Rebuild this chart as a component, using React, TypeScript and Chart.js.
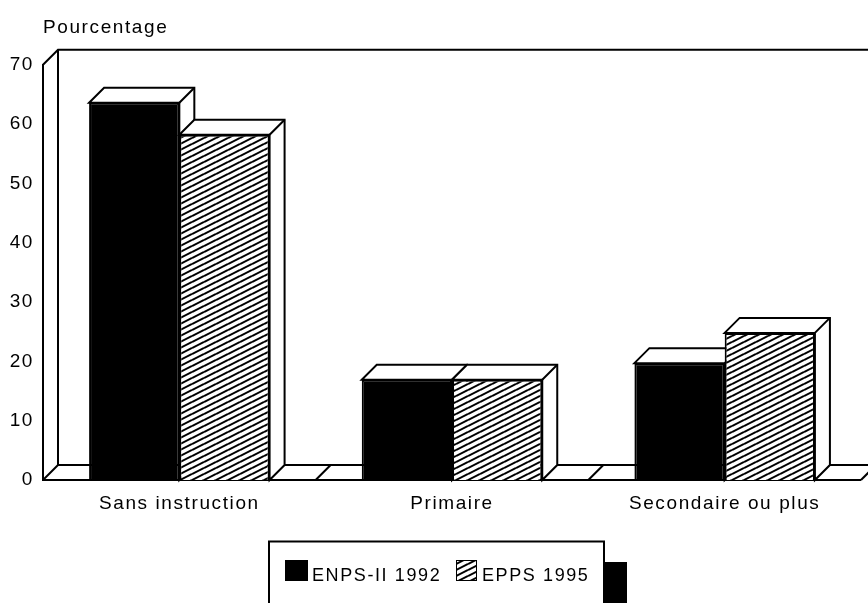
import React, { useEffect, useRef } from "react";
import { Chart, registerables } from "chart.js";

Chart.register(...registerables);

const categories = ["Sans instruction", "Primaire", "Secondaire ou plus"];
const seriesNames = ["ENPS-II 1992", "EPPS 1995"];
const enps1992 = [63.6, 16.9, 19.7];
const epps1995 = [58.2, 16.9, 24.8];
const yTicksMax = 70;
const yStep = 10;
const yAxisTitle = "Pourcentage";

const FONT = '"Liberation Sans", Arial, sans-serif';
const DEPTH = 15;
const INK = "#000000";

function makeHatch(): CanvasPattern | string {
  const tile = document.createElement("canvas");
  tile.width = 12;
  tile.height = 6;
  const t = tile.getContext("2d");
  if (!t) return "#888";
  t.fillStyle = "#fff";
  t.fillRect(0, 0, 12, 6);
  t.strokeStyle = "#000";
  t.lineWidth = 2;
  for (const off of [-6, 0, 6]) {
    t.beginPath();
    t.moveTo(0, 6 + off);
    t.lineTo(12, 0 + off);
    t.stroke();
  }
  return t.createPattern(tile, "repeat") || "#888";
}

function line(ctx: CanvasRenderingContext2D, pts: number[][]) {
  ctx.beginPath();
  pts.forEach(([x, y], i) => (i ? ctx.lineTo(x, y) : ctx.moveTo(x, y)));
  ctx.stroke();
}

const depthPlugin = {
  id: "depth",
  beforeDraw(chart: any) {
    (chart.ctx as any).letterSpacing = "1.6px";
  },
  beforeDatasetsDraw(chart: any) {
    const { ctx, chartArea: a, width, scales } = chart;
    const x = scales.x;
    ctx.save();
    ctx.strokeStyle = INK;
    ctx.lineWidth = 2;
    // walls and floor behind the bars
    line(ctx, [[a.left, a.top], [a.left + DEPTH, a.top - DEPTH], [width, a.top - DEPTH]]);
    line(ctx, [[a.left + DEPTH, a.top - DEPTH], [a.left + DEPTH, a.bottom - DEPTH], [width, a.bottom - DEPTH]]);
    line(ctx, [[a.left, a.bottom], [a.left + DEPTH, a.bottom - DEPTH]]);
    line(ctx, [[a.left, a.bottom], [a.right, a.bottom]]);
    const step = categories.length > 1 ? x.getPixelForValue(1) - x.getPixelForValue(0) : 0;
    categories.forEach((_, i) => {
      const bx = x.getPixelForValue(i) + step / 2;
      line(ctx, [[bx, a.bottom], [bx + DEPTH, a.bottom - DEPTH]]);
    });
    // side and top faces of each bar
    categories.forEach((_, j) => {
      chart.data.datasets.forEach((_d: any, i: number) => {
        const b = chart.getDatasetMeta(i).data[j];
        const l = b.x - b.width / 2;
        const r = b.x + b.width / 2;
        ctx.fillStyle = "#fff";
        ctx.beginPath();
        ctx.moveTo(l, b.y);
        ctx.lineTo(l + DEPTH, b.y - DEPTH);
        ctx.lineTo(r + DEPTH, b.y - DEPTH);
        ctx.lineTo(r + DEPTH, b.base - DEPTH);
        ctx.lineTo(r, b.base);
        ctx.lineTo(r, b.y);
        ctx.closePath();
        ctx.fill();
        ctx.stroke();
        line(ctx, [[r, b.y], [r + DEPTH, b.y - DEPTH]]);
      });
    });
    ctx.restore();
  },
  afterDraw(chart: any) {
    const { ctx } = chart;
    ctx.save();
    // legend box, with its dark shadow, running off the page
    ctx.fillStyle = INK;
    ctx.fillRect(604, 562, 23, 41);
    ctx.fillStyle = "#fff";
    ctx.fillRect(269, 541, 335, 70);
    ctx.strokeStyle = INK;
    ctx.lineWidth = 2;
    ctx.strokeRect(269, 541.5, 335, 70);
    const items = [
      { sx: 285, sw: 23, tx: 312 },
      { sx: 456, sw: 21, tx: 482 },
    ];
    ctx.font = `18px ${FONT}`;
    (ctx as any).letterSpacing = "1.6px";
    ctx.textAlign = "left";
    ctx.textBaseline = "alphabetic";
    chart.data.datasets.forEach((d: any, i: number) => {
      const it = items[i];
      ctx.fillStyle = d.backgroundColor;
      ctx.fillRect(it.sx, 560, it.sw, 21);
      ctx.lineWidth = 1;
      ctx.strokeRect(it.sx + 0.5, 560.5, it.sw - 1, 20);
      ctx.fillStyle = INK;
      ctx.fillText(d.label, it.tx, 581);
    });
    ctx.restore();
  },
};

export default function App() {
  const ref = useRef<HTMLCanvasElement>(null);
  useEffect(() => {
    if (!ref.current) return;
    const hatch = makeHatch();
    const chart = new Chart(ref.current, {
      type: "bar",
      data: {
        labels: categories,
        datasets: [
          { label: seriesNames[0], data: enps1992, backgroundColor: INK, borderColor: INK, borderWidth: 2 },
          { label: seriesNames[1], data: epps1995, backgroundColor: hatch as any, borderColor: INK, borderWidth: 2 },
        ],
      },
      options: {
        animation: false,
        responsive: false,
        layout: { padding: { right: 7 } },
        categoryPercentage: 0.662,
        barPercentage: 1,
        plugins: {
          legend: { display: false },
          tooltip: { enabled: false },
          title: {
            display: true,
            text: yAxisTitle,
            align: "start",
            fullSize: false,
            color: INK,
            font: { family: FONT, size: 19, weight: "normal" },
            padding: { top: 16, bottom: 26 },
          },
        },
        scales: {
          x: {
            grid: { display: false, drawTicks: false },
            border: { display: false },
            ticks: { color: INK, font: { family: FONT, size: 19 }, padding: 12, maxRotation: 0, autoSkip: false },
            afterFit: (s: any) => { s.height = 123; },
          },
          y: {
            min: 0,
            max: yTicksMax,
            grid: { display: false, drawTicks: false },
            border: { display: true, color: INK, width: 2 },
            ticks: { stepSize: yStep, color: INK, font: { family: FONT, size: 19 }, padding: 9 },
            afterFit: (s: any) => { s.width = 43; },
          },
        },
      } as any,
      plugins: [depthPlugin],
    });
    return () => chart.destroy();
  }, []);
  return (
    <canvas
      ref={ref}
      width={868}
      height={603}
      style={{ position: "absolute", left: 0, top: 0, display: "block", background: "#fff" }}
    />
  );
}
